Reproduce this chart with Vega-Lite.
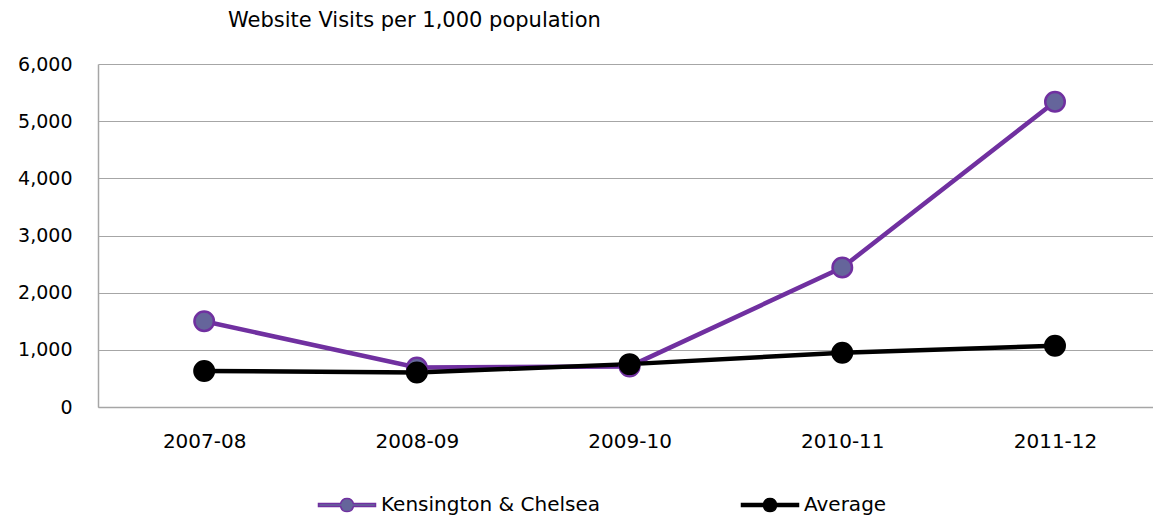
{
  "$schema": "https://vega.github.io/schema/vega-lite/v6.json",
  "width": 1055,
  "height": 343,
  "autosize": "none",
  "padding": {"left": 98, "top": 64, "right": 0, "bottom": 111},
  "background": "white",
  "title": {
    "text": "Website Visits per 1,000 population",
    "anchor": "start",
    "frame": "group",
    "dx": 130,
    "offset": 24,
    "font": "DejaVu Sans",
    "fontSize": 21,
    "fontWeight": "normal",
    "color": "#000000"
  },
  "data": {
    "values": [
      {"year": "2007-08", "series": "Kensington & Chelsea", "visits": 1500},
      {"year": "2008-09", "series": "Kensington & Chelsea", "visits": 690},
      {"year": "2009-10", "series": "Kensington & Chelsea", "visits": 710},
      {"year": "2010-11", "series": "Kensington & Chelsea", "visits": 2440},
      {"year": "2011-12", "series": "Kensington & Chelsea", "visits": 5340},
      {"year": "2007-08", "series": "Average", "visits": 630},
      {"year": "2008-09", "series": "Average", "visits": 603},
      {"year": "2009-10", "series": "Average", "visits": 750},
      {"year": "2010-11", "series": "Average", "visits": 950},
      {"year": "2011-12", "series": "Average", "visits": 1070}
    ]
  },
  "encoding": {
    "x": {
      "field": "year",
      "type": "ordinal",
      "sort": null,
      "scale": {"padding": 0.48, "align": 0.52},
      "axis": {
        "title": null,
        "labelAngle": 0,
        "ticks": false,
        "tickSize": 0,
        "grid": false,
        "domainColor": "#A6A6A6",
        "domainWidth": 1.5,
        "labelFont": "DejaVu Sans",
        "labelFontSize": 20,
        "labelColor": "#000000",
        "labelPadding": 24
      }
    },
    "y": {
      "field": "visits",
      "type": "quantitative",
      "scale": {"domain": [0, 6000], "nice": false},
      "axis": {
        "title": null,
        "values": [0, 1000, 2000, 3000, 4000, 5000, 6000],
        "format": ",d",
        "ticks": false,
        "tickSize": 0,
        "grid": true,
        "gridColor": "#A6A6A6",
        "gridWidth": 1.2,
        "domainColor": "#A6A6A6",
        "domainWidth": 1.5,
        "labelFont": "DejaVu Sans",
        "labelFontSize": 19,
        "labelColor": "#000000",
        "labelPadding": 26
      }
    }
  },
  "layer": [
    {
      "mark": {"type": "line", "strokeWidth": 4.5},
      "encoding": {
        "stroke": {
          "field": "series",
          "type": "nominal",
          "sort": ["Kensington & Chelsea", "Average"],
          "scale": {"domain": ["Kensington & Chelsea", "Average"], "range": ["#7030A0", "#000000"]},
          "legend": {
            "title": null,
            "orient": "none",
            "legendX": 239,
            "legendY": 431,
            "direction": "horizontal",
            "padding": 0,
            "columnPadding": 138,
            "symbolType": "M-4.75,-0.25H-1.071A1.1,1.1,0,0,1,1.071,-0.25H4.75V0.25H1.071A1.1,1.1,0,0,1,-1.071,0.25H-4.75Z",
            "symbolSize": 144,
            "symbolStrokeWidth": 1.5,
            "symbolOpacity": 1,
            "labelOffset": 24,
            "labelFont": "DejaVu Sans",
            "labelFontSize": 20,
            "labelColor": "#000000",
            "labelLimit": 400
          }
        }
      }
    },
    {
      "mark": {"type": "circle", "size": 380, "strokeWidth": 2.5, "opacity": 1},
      "encoding": {
        "fill": {
          "field": "series",
          "type": "nominal",
          "sort": ["Kensington & Chelsea", "Average"],
          "scale": {"domain": ["Kensington & Chelsea", "Average"], "range": ["#65659B", "#000000"]},
          "legend": {
            "title": null,
            "orient": "none",
            "legendX": 239,
            "legendY": 431,
            "direction": "horizontal",
            "padding": 0,
            "columnPadding": 138,
            "symbolType": "M-4.75,-0.25H-1.071A1.1,1.1,0,0,1,1.071,-0.25H4.75V0.25H1.071A1.1,1.1,0,0,1,-1.071,0.25H-4.75Z",
            "symbolSize": 144,
            "symbolStrokeWidth": 1.5,
            "symbolOpacity": 1,
            "labelOffset": 24,
            "labelFont": "DejaVu Sans",
            "labelFontSize": 20,
            "labelColor": "#000000",
            "labelLimit": 400
          }
        },
        "stroke": {
          "field": "series",
          "type": "nominal",
          "sort": ["Kensington & Chelsea", "Average"],
          "scale": {"domain": ["Kensington & Chelsea", "Average"], "range": ["#7030A0", "#000000"]}
        }
      }
    }
  ],
  "config": {
    "view": {"stroke": null}
  }
}
